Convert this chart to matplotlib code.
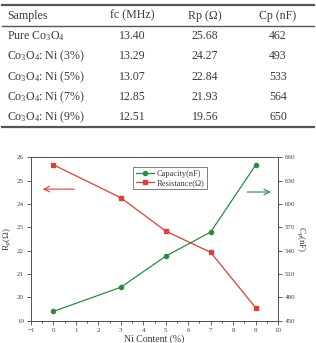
import numpy as np
import matplotlib
matplotlib.use('Agg')
import matplotlib.pyplot as plt
from matplotlib.ticker import MultipleLocator

plt.rcParams['font.family'] = 'Liberation Serif'
plt.rcParams['mathtext.fontset'] = 'custom'
plt.rcParams['mathtext.rm'] = 'Liberation Serif'
plt.rcParams['mathtext.it'] = 'Liberation Serif:italic'

# table data
encabezados = ["Samples", "fc (MHz)", "Rp (\u03a9)", "Cp (nF)"]
muestras = ["Pure Co$_3$O$_4$", "Co$_3$O$_4$: Ni (3%)", "Co$_3$O$_4$: Ni (5%)",
            "Co$_3$O$_4$: Ni (7%)", "Co$_3$O$_4$: Ni (9%)"]
fc = ["13.40", "13.29", "13.07", "12.85", "12.51"]
rp_txt = ["25.68", "24.27", "22.84", "21.93", "19.56"]
cp_txt = ["462", "493", "533", "564", "650"]

# chart data
ni = [0, 3, 5, 7, 9]
rp = [25.68, 24.27, 22.84, 21.93, 19.56]
cp = [462, 493, 533, 564, 650]

W, H = 316, 343
fig = plt.figure(figsize=(W / 100, H / 100), dpi=100, facecolor='white')

def fx(px):
    return px / W

def fy(py):
    return 1 - py / H

# tabla
gris = '#3a3a3a'
for yl, lw in [(5, 1.6), (25.5, 1.0), (127, 1.6)]:
    fig.add_artist(plt.Line2D([fx(2), fx(314)], [fy(yl), fy(yl)], color='#555555', lw=lw))

cols_x = [132, 205, 278]
fs = 8.6
fig.text(fx(7), fy(15.5), encabezados[0], ha='left', va='center', fontsize=fs, color=gris)
for c, txt in zip(cols_x, encabezados[1:]):
    fig.text(fx(c), fy(15.5), txt, ha='center', va='center', fontsize=fs, color=gris)

filas_y = [36, 56, 77, 97, 117]
for i, yr in enumerate(filas_y):
    fig.text(fx(7), fy(yr), muestras[i], ha='left', va='center', fontsize=fs, color=gris)
    for c, txt in zip(cols_x, [fc[i], rp_txt[i], cp_txt[i]]):
        fig.text(fx(c), fy(yr), txt, ha='center', va='center', fontsize=fs, color=gris)

# grafico
rojo = '#d9423a'
verde = '#2e8a45'
ax = fig.add_axes([31 / W, (H - 320.7) / H, 247 / W, 163.3 / H])
ax2 = ax.twinx()

l1, = ax2.plot(ni, cp, color=verde, lw=0.9, marker='o', ms=3, label='Capacity(nF)')
l2, = ax.plot(ni, rp, color=rojo, lw=0.9, marker='s', ms=3, label='Resistance(\u03a9)')

ax.set_xlim(-1, 10)
ax.set_ylim(19, 26)
ax2.set_ylim(450, 660)
ax.xaxis.set_major_locator(MultipleLocator(1))
ax.xaxis.set_minor_locator(MultipleLocator(0.5))
ax.yaxis.set_major_locator(MultipleLocator(1))
ax2.yaxis.set_major_locator(MultipleLocator(30))

for a in (ax, ax2):
    a.tick_params(which='major', length=3, width=0.6, labelsize=5, colors='#444444', pad=2)
    a.tick_params(which='minor', length=1.5, width=0.5)
    for s in a.spines.values():
        s.set_linewidth(0.7)
        s.set_color('#555555')

ax.set_xlabel('Ni Content (%)', fontsize=7, color=gris, labelpad=1)
ax.set_ylabel('R$_p$($\\Omega$)', fontsize=6.5, color=gris, labelpad=3)
ax2.set_ylabel('C$_p$(nF)', fontsize=6.5, color=gris, rotation=270, labelpad=8)

# flechas
ax.annotate('', xy=(-0.6, 24.64), xytext=(1.05, 24.64),
            arrowprops=dict(arrowstyle='->', color=rojo, lw=0.8))
ax2.annotate('', xy=(9.8, 615.5), xytext=(8.5, 615.5),
             arrowprops=dict(arrowstyle='->', color=verde, lw=0.8))

leg = ax.legend(handles=[l1, l2], loc='upper left', bbox_to_anchor=(0.413, 0.94),
                fontsize=6, frameon=True, fancybox=False, borderpad=0.3,
                handlelength=2.2, handletextpad=0.3, labelspacing=0.15,
                borderaxespad=0)
leg.get_frame().set_edgecolor('#444444')
leg.get_frame().set_linewidth(0.6)
for t in leg.get_texts():
    t.set_color(gris)

fig.savefig('out.png', dpi=100)
